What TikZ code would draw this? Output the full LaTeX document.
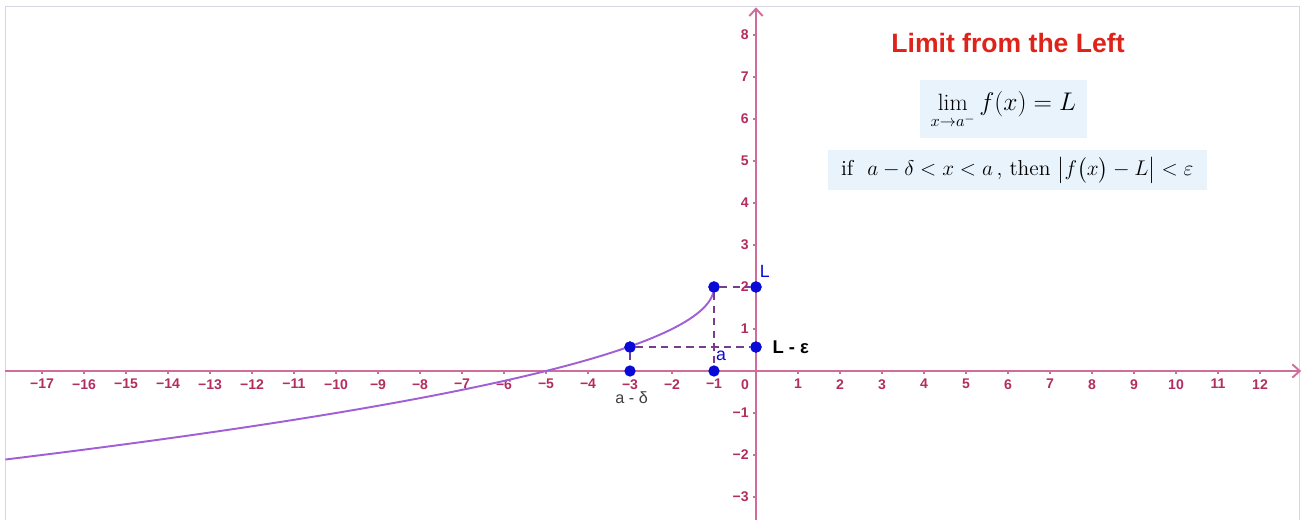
\documentclass[tikz,border=0pt]{standalone}
\usepackage{fontspec}
\usepackage{amsmath}
\usetikzlibrary{arrows.meta}
\newfontfamily\arialf{Liberation Sans}
\definecolor{axisc}{RGB}{208,110,155}
\definecolor{ticklab}{RGB}{180,45,95}
\definecolor{curvec}{RGB}{160,95,215}
\definecolor{dashc}{RGB}{120,60,140}
\definecolor{ptc}{RGB}{10,10,215}
\definecolor{boxc}{RGB}{232,243,251}
\definecolor{titlec}{RGB}{222,35,25}
\definecolor{framec}{RGB}{215,215,225}
\tikzset{
  axisline/.style={draw=axisc, line width=1.3pt},
  xlab/.style={anchor=north, text=ticklab, font=\arialf\bfseries\fontsize{9.5}{10}\selectfont, inner sep=0pt},
  ylab/.style={anchor=east, text=ticklab, font=\arialf\bfseries\fontsize{9.5}{10}\selectfont, inner sep=0pt},
  tickm/.style={draw=axisc, line width=0.8pt},
  dot/.style={circle, fill=ptc, inner sep=0pt, minimum size=0.27cm},
  guide/.style={draw=dashc, line width=1pt, dash pattern=on 5pt off 3.5pt},
  mbox/.style={fill=boxc, draw=none},
  txt/.style={inner sep=0pt},
}
\begin{document}
\begin{tikzpicture}
\useasboundingbox (-18,-3.5476) rectangle (13.0238,8.8333);
\fill[white] (-18,-3.5476) rectangle (13.0238,8.8333);
% frame
\draw[framec, line width=0.6pt] (-17.88,-3.5476) -- (-17.88,8.69) -- (12.93,8.69) -- (12.93,-3.5476);
% boxes
\fill[mbox] (3.9,5.55) rectangle (7.88,6.93);
\fill[mbox] (1.71,4.31) rectangle (10.74,5.26);
\node[txt] (title) at (6.0,7.81) {\arialf\bfseries\fontsize{18}{20}\selectfont\color{titlec}Limit from the Left};
\node[txt] (lim) at (5.89,6.20) {\fontsize{16}{19}\selectfont $\displaystyle\lim_{x\to a^-} f(x) = L$};
\node[txt] (cond) at (6.22,4.78) {\fontsize{14.6}{16}\selectfont if\ \ $a-\delta<x<a$\,, then $\bigl|f\bigl(x\bigr)-L\bigr|<\varepsilon$};
% axes
\coordinate (xl) at (-17.88,0);
\coordinate (xr) at (12.98,0);
\coordinate (yb) at (0,-3.5476);
\coordinate (yt) at (0,8.66);
\draw[axisline, -{Straight Barb[length=5pt,width=9pt]}] (xl) -- (xr);
\draw[axisline, -{Straight Barb[length=5pt,width=9pt]}] (yb) -- (yt);
% ticks and labels
\foreach \i in {-17,...,-1,1,2,...,12} {
  \draw[tickm] (\i,0) -- (\i,-0.07);
  \node[xlab] at (\i,-0.19) {\ifnum\i<0 −\number\numexpr-\i\relax\else\i\fi};
}
\node[xlab] at (-0.26,-0.19) {0};
\foreach \j in {-3,-2,-1,1,2,...,8} {
  \draw[tickm] (0,\j) -- (-0.07,\j);
  \node[ylab] at (-0.17,\j) {\ifnum\j<0 −\number\numexpr-\j\relax\else\j\fi};
}
% curve f(x) = 2 - sqrt(-1-x)
\draw[curvec, line width=1.3pt] plot[domain=0:4.109, samples=120, smooth] ({-1-\x*\x},{2-\x});
% points
\node[dot] (P) at (-1,2) {};
\node[dot] (Lp) at (0,2) {};
\node[dot] (Q) at (-3,0.57) {};
\node[dot] (Le) at (0,0.57) {};
\node[dot] (ad) at (-3,0) {};
\node[dot] (a) at (-1,0) {};
% dashed guides
\draw[guide] (P) -- (Lp);
\draw[guide] (P) -- (a);
\draw[guide] (Q) -- (Le);
\draw[guide] (Q) -- (ad);
\node[dot] at (P) {};
\node[dot] at (Lp) {};
\node[dot] at (Q) {};
\node[dot] at (Le) {};
% labels
\node (Llab) at (0.21,2.38) {\arialf\fontsize{12}{14}\selectfont\color{ptc}L};
\node (alab) at (-0.83,0.37) {\arialf\fontsize{12}{14}\selectfont\color{ptc}a};
\node[anchor=west] (Lelab) at (0.27,0.57) {\arialf\bfseries\fontsize{12.5}{14}\selectfont L - ε};
\node (adlab) at (-2.96,-0.63) {\arialf\fontsize{11}{13}\selectfont\color{black!75}a - δ};
\end{tikzpicture}
\end{document}
